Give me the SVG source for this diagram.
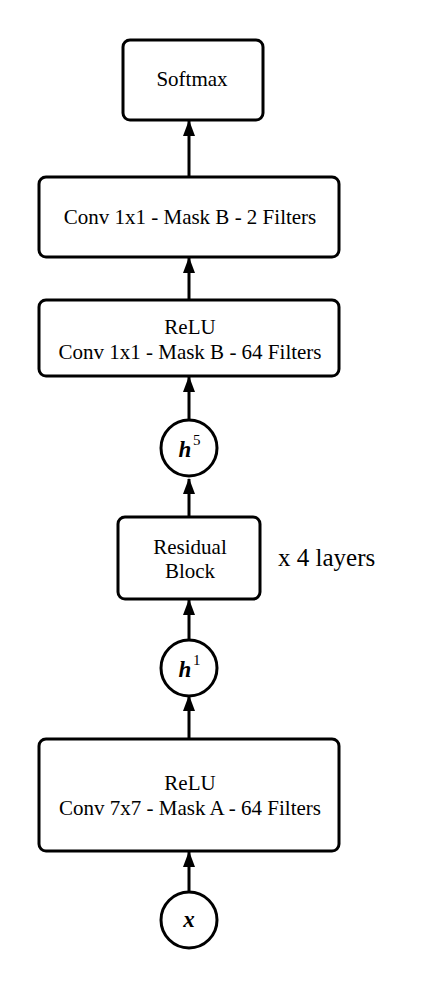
<svg xmlns="http://www.w3.org/2000/svg" width="440" height="990" viewBox="0 0 440 990">
<style>
.box{fill:#fff;stroke:#000;stroke-width:3}
.t{font-family:"Liberation Serif","DejaVu Serif",serif;font-size:21px;fill:#000;text-anchor:middle}
.v{font-family:"Liberation Serif","DejaVu Serif",serif;font-size:23px;font-weight:bold;font-style:italic;fill:#000;text-anchor:middle}
.s{font-family:"Liberation Serif","DejaVu Serif",serif;font-size:15px;fill:#000}
.c line{stroke:#000;stroke-width:3;marker-end:url(#ah)}
</style>
<defs>
<marker id="ah" viewBox="0 0 16 12" refX="15" refY="6" markerUnits="userSpaceOnUse" markerWidth="16" markerHeight="12" orient="auto">
<path d="M0,0 L16,6 L0,12 Z" fill="#000"/>
</marker>
</defs>
<rect width="440" height="990" fill="#fff"/>
<g class="c" id="connectors">
<line x1="189" y1="177" x2="189" y2="121"/>
<line x1="189" y1="300" x2="189" y2="258"/>
<line x1="189" y1="419" x2="189" y2="377"/>
<line x1="189" y1="517" x2="189" y2="479"/>
<line x1="189" y1="640" x2="189" y2="600"/>
<line x1="189" y1="739" x2="189" y2="696"/>
<line x1="189" y1="892" x2="189" y2="852"/>
</g>
<g id="softmax">
<rect class="box" x="123" y="40" width="140" height="80" rx="7"/>
<text class="t" x="192" y="86">Softmax</text>
</g>
<g id="conv2">
<rect class="box" x="39" y="177" width="300" height="80" rx="7"/>
<text class="t" x="190" y="224">Conv 1x1 - Mask B - 2 Filters</text>
</g>
<g id="conv64">
<rect class="box" x="39" y="300" width="300" height="76" rx="7"/>
<text class="t" x="190" y="334">ReLU</text>
<text class="t" x="190" y="359">Conv 1x1 - Mask B - 64 Filters</text>
</g>
<g id="h5">
<circle class="box" cx="189" cy="448" r="28"/>
<text class="v" x="185" y="457">h</text>
<text class="s" x="193" y="445">5</text>
</g>
<g id="residual">
<rect class="box" x="118" y="517" width="142" height="82" rx="7"/>
<text class="t" x="190" y="554">Residual</text>
<text class="t" x="190" y="578">Block</text>
</g>
<g id="layers">
<text class="t" x="278" y="566" style="font-size:25px;text-anchor:start">x 4 layers</text>
</g>
<g id="h1">
<circle class="box" cx="189" cy="668" r="28"/>
<text class="v" x="185" y="677">h</text>
<text class="s" x="193" y="665">1</text>
</g>
<g id="conv7">
<rect class="box" x="39" y="739" width="300" height="112" rx="7"/>
<text class="t" x="190" y="790">ReLU</text>
<text class="t" x="190" y="815">Conv 7x7 - Mask A - 64 Filters</text>
</g>
<g id="x">
<circle class="box" cx="189" cy="920" r="28"/>
<text class="v" x="189" y="927">x</text>
</g>
</svg>
